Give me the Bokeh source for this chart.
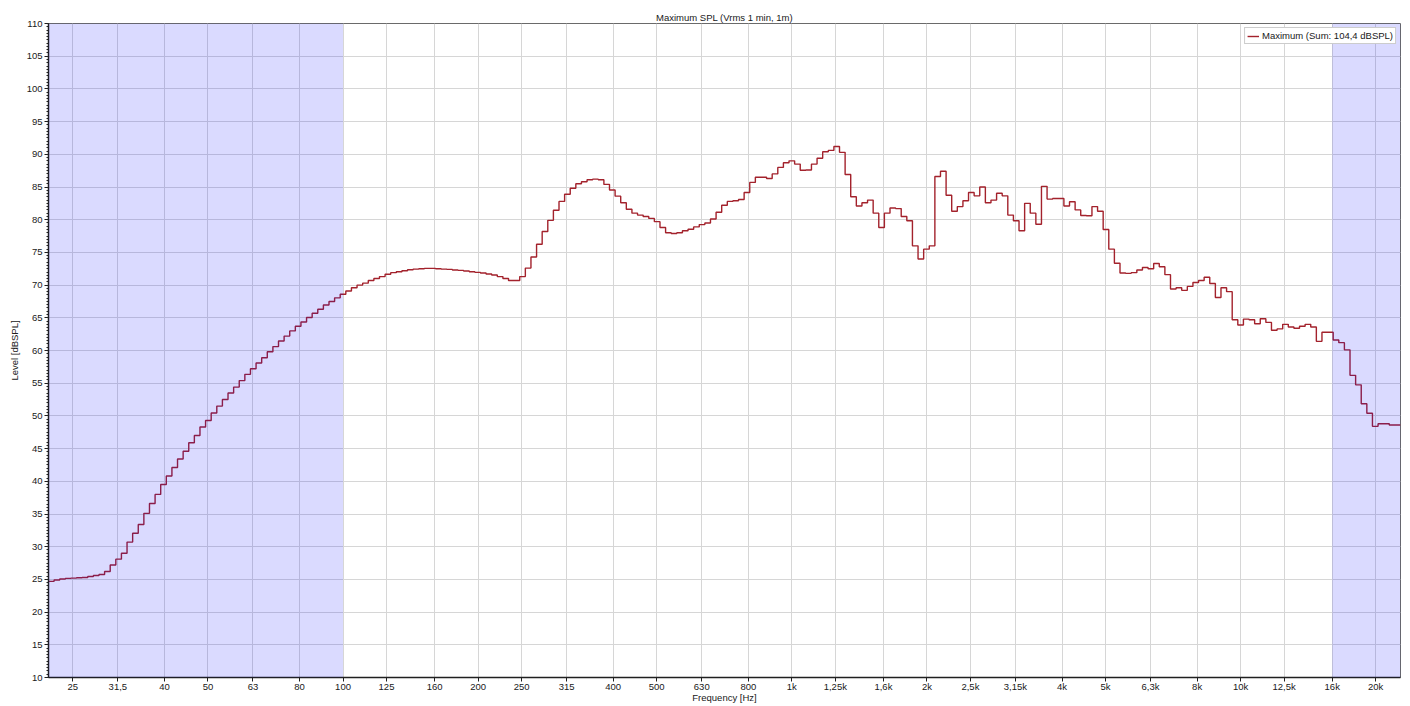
from bokeh.plotting import figure
from bokeh.models import (FixedTicker, SingleIntervalTicker, CustomJSTickFormatter,
                          BoxAnnotation, Legend, LegendItem, Range1d)
from bokeh.embed import file_html
from bokeh.resources import INLINE

# 1/24-octave (base-10) band index relative to 1 kHz
band_index = list(range(-132, 109))

# Maximum SPL per band [dBSPL]
levels = [
    24.7, 24.9, 25.05, 25.15, 25.2, 25.25, 25.3, 25.45, 25.6, 25.75,
    26.2, 27.2, 28.1, 29.0, 30.7, 32.05, 33.4, 35.1, 36.6, 38.0,
    39.5, 40.8, 42.1, 43.4, 44.6, 45.9, 47.0, 48.3, 49.3, 50.45,
    51.5, 52.5, 53.5, 54.4, 55.4, 56.35, 57.2, 58.1, 58.9, 59.8,
    60.6, 61.45, 62.2, 63.0, 63.7, 64.35, 65.05, 65.7, 66.3, 66.95,
    67.5, 68.05, 68.6, 69.1, 69.6, 70.0, 70.3, 70.7, 71.0, 71.3,
    71.65, 71.9, 72.05, 72.2, 72.35, 72.45, 72.5, 72.55, 72.55, 72.5,
    72.45, 72.4, 72.3, 72.25, 72.15, 72.05, 71.95, 71.85, 71.7, 71.55,
    71.3, 71.0, 70.7, 70.7, 71.3, 72.6, 74.3, 76.25, 78.2, 79.9,
    81.45, 82.8, 83.9, 84.8, 85.5, 85.8, 86.1, 86.2, 86.1, 85.4,
    84.55, 83.6, 82.6, 81.6, 81.0, 80.7, 80.5, 80.2, 79.7, 78.8,
    78.0, 77.9, 78.0, 78.3, 78.55, 78.9, 79.25, 79.5, 80.1, 81.15,
    82.2, 82.8, 82.9, 83.1, 84.15, 85.7, 86.5, 86.5, 86.3, 87.0,
    88.0, 88.7, 89.0, 88.5, 87.55, 87.6, 88.5, 89.4, 90.4, 90.6,
    91.2, 90.3, 86.9, 83.5, 82.1, 82.6, 83.0, 81.0, 78.8, 81.0,
    81.8, 81.7, 80.5, 79.85, 76.0, 74.0, 75.5, 76.0, 86.6, 87.4,
    83.75, 81.3, 82.0, 82.9, 84.15, 83.65, 85.0, 82.6, 83.0, 84.05,
    83.65, 80.7, 79.85, 78.3, 82.5, 81.0, 79.3, 85.1, 83.15, 83.25,
    83.25, 82.1, 82.75, 81.5, 80.65, 80.6, 82.0, 81.3, 78.5, 75.5,
    73.35, 71.85, 71.8, 71.9, 72.3, 72.7, 72.5, 73.3, 72.8, 71.6,
    69.4, 69.6, 69.2, 69.8, 70.4, 70.7, 71.2, 70.25, 68.1, 69.6,
    69.0, 64.7, 63.9, 64.8, 64.7, 64.1, 64.85, 64.3, 63.1, 63.3,
    64.0, 63.6, 63.4, 63.7, 64.0, 63.6, 61.4, 62.8, 62.8, 61.6,
    61.2, 60.1, 56.2, 54.75, 51.85, 50.4, 48.4, 48.8, 48.8, 48.6,
    48.6,
]

x_ticks = [25, 31.5, 40, 50, 63, 80, 100, 125, 160, 200, 250, 315, 400, 500,
           630, 800, 1000, 1250, 1600, 2000, 2500, 3150, 4000, 5000, 6300,
           8000, 10000, 12500, 16000, 20000]

title_text = "Maximum SPL (Vrms 1 min, 1m)"
legend_text = "Maximum (Sum: 104,4 dBSPL)"
x_label = "Frequency [Hz]"
y_label = "Level [dBSPL]"
shade_low = 100
shade_high = 16000

# band centres and edges of the measurement grid
centers = [1000 * 10 ** (j / 80) for j in band_index]
lower_edges = [c * 10 ** (-1 / 160) for c in centers]
upper_last = centers[-1] * 10 ** (1 / 160)
x_step = lower_edges + [upper_last]
y_step = levels + [levels[-1]]

FONT = "Liberation Sans"

p = figure(width=1410, height=706, x_axis_type="log",
           x_range=Range1d(lower_edges[0], upper_last), y_range=Range1d(10, 110),
           output_backend="svg", toolbar_location=None,
           min_border_left=48, min_border_right=10, min_border_top=23, min_border_bottom=29)

p.title.text = title_text
p.title.align = "center"
p.title.text_font = FONT
p.title.text_font_size = "9.5px"
p.title.text_font_style = "normal"
p.title.text_color = "#202020"
p.title.standoff = 2

p.outline_line_color = "#6a6a6a"
p.outline_line_width = 1
p.background_fill_color = "white"
p.border_fill_color = "white"

r = p.step(x_step, y_step, mode="after", line_color="#A3222C", line_width=1.4)

for lft, rgt in ((None, shade_low), (shade_high, None)):
    p.add_layout(BoxAnnotation(left=lft, right=rgt, fill_color="#0000ff",
                               fill_alpha=0.145, line_color=None))

# axes
xa = p.xaxis[0]
xa.ticker = FixedTicker(ticks=x_ticks, minor_ticks=[])
xa.formatter = CustomJSTickFormatter(code="""
    if (tick >= 1000) { return (tick/1000).toString().replace('.', ',') + 'k'; }
    return tick.toString().replace('.', ',');
""")
ya = p.yaxis[0]
ya.ticker = SingleIntervalTicker(interval=5, num_minor_ticks=10)

for ax in (xa, ya):
    ax.major_label_text_font = FONT
    ax.major_label_text_font_size = "9.5px"
    ax.major_label_text_color = "#202020"
    ax.axis_label_text_font = FONT
    ax.axis_label_text_font_size = "9.5px"
    ax.axis_label_text_font_style = "normal"
    ax.axis_label_text_color = "#202020"
    ax.axis_line_color = "#202020"
    ax.axis_line_width = 1.5
    ax.major_tick_line_color = "#202020"
    ax.minor_tick_line_color = "#202020"
    ax.major_tick_in = 0
    ax.major_tick_out = 4
    ax.minor_tick_in = 0
    ax.minor_tick_out = 2

xa.major_label_standoff = -1
xa.axis_label_standoff = -3
ya.major_label_standoff = 2
ya.axis_label_standoff = 4

xa.axis_label = x_label
ya.axis_label = y_label

p.xgrid.ticker = FixedTicker(ticks=x_ticks, minor_ticks=[])
for g in (p.xgrid[0], p.ygrid[0]):
    g.grid_line_color = "#d6d6d6"
    g.grid_line_width = 1

legend = Legend(items=[LegendItem(label=legend_text, renderers=[r])],
                location="top_right", label_text_font=FONT,
                label_text_font_size="9.5px", label_text_color="#202020",
                label_height=10, glyph_height=10, glyph_width=12,
                label_standoff=3, padding=2, margin=4, spacing=0,
                border_line_color="#9a9a9a", background_fill_alpha=1)
p.add_layout(legend, "center")

open("out.html", "w").write(file_html(p, INLINE))
